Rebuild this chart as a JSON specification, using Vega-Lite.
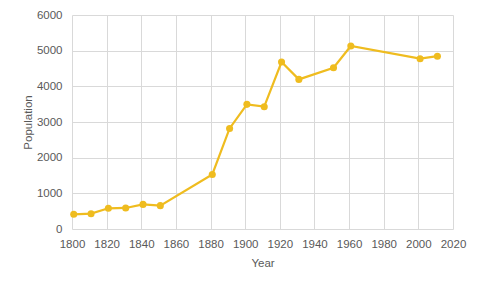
{
  "$schema": "https://vega.github.io/schema/vega-lite/v6.json",
  "width": 381,
  "height": 214,
  "autosize": {"type": "none"},
  "padding": {"left": 72, "top": 15, "right": 27, "bottom": 60},
  "background": "white",
  "config": {
    "view": {"stroke": null},
    "font": "Liberation Sans",
    "axis": {
      "labelFont": "Liberation Sans",
      "titleFont": "Liberation Sans",
      "labelFontSize": 11.5,
      "titleFontSize": 11.5,
      "titleFontWeight": "normal",
      "labelColor": "#595959",
      "titleColor": "#595959",
      "gridColor": "#D9D9D9",
      "gridWidth": 1,
      "domain": false,
      "ticks": false,
      "labelOverlap": false
    }
  },
  "data": {
    "values": [
      {"year": 1801, "population": 412},
      {"year": 1811, "population": 430},
      {"year": 1821, "population": 580},
      {"year": 1831, "population": 590},
      {"year": 1841, "population": 690},
      {"year": 1851, "population": 655},
      {"year": 1881, "population": 1530},
      {"year": 1891, "population": 2820},
      {"year": 1901, "population": 3495},
      {"year": 1911, "population": 3430},
      {"year": 1921, "population": 4680},
      {"year": 1931, "population": 4195},
      {"year": 1951, "population": 4520},
      {"year": 1961, "population": 5130},
      {"year": 2001, "population": 4775},
      {"year": 2011, "population": 4845}
    ]
  },
  "mark": {"type": "line", "color": "#EFBC1F", "strokeWidth": 2.2, "point": {"filled": true, "size": 50, "color": "#EFBC1F"}},
  "encoding": {
    "x": {
      "field": "year",
      "type": "quantitative",
      "title": "Year",
      "scale": {"domain": [1800, 2020], "nice": false, "zero": false},
      "axis": {"values": [1800, 1820, 1840, 1860, 1880, 1900, 1920, 1940, 1960, 1980, 2000, 2020], "format": "d", "labelPadding": 9, "titlePadding": 8, "labelFlush": false}
    },
    "y": {
      "field": "population",
      "type": "quantitative",
      "title": "Population",
      "scale": {"domain": [0, 6000], "nice": false},
      "axis": {"values": [0, 1000, 2000, 3000, 4000, 5000, 6000], "format": "d", "labelPadding": 10, "titlePadding": 3, "labelFlush": false}
    }
  }
}
